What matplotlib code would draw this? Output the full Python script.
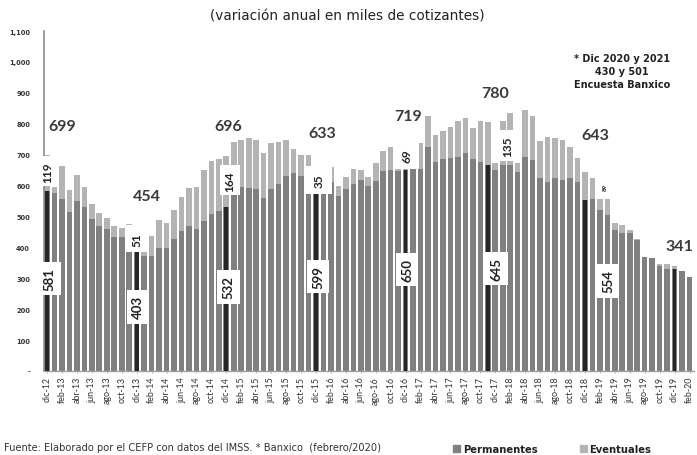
import matplotlib
matplotlib.use("Agg")
import matplotlib.pyplot as plt
from matplotlib.patches import Patch
import numpy as np

# ---------------- data ----------------
meses = ['ene', 'feb', 'mar', 'abr', 'may', 'jun', 'jul', 'ago', 'sep', 'oct', 'nov', 'dic']
categorias = ['dic-12'] + [f'{m}-{y}' for y in range(13, 20) for m in meses] + ['ene-20', 'feb-20']

permanentes = [581, 576, 557, 515, 551, 530, 491, 470, 459, 433, 433, 394,
               403, 371, 371, 399, 399, 428, 453, 468, 459, 484, 509, 517,
               532, 585, 596, 593, 588, 561, 588, 604, 632, 639, 631, 598,
               599, 585, 610, 567, 588, 605, 618, 599, 614, 647, 650, 648,
               650, 652, 653, 726, 675, 686, 690, 693, 704, 685, 677, 666,
               650, 665, 665, 644, 693, 682, 623, 612, 623, 618, 625, 610,
               554, 558, 520, 504, 455, 445, 445, 423, 369, 366, 340, 330,
               329, 322, 304]
eventuales = [119, 19, 106, 71, 82, 65, 48, 40, 37, 35, 31, 83,
              51, 22, 65, 89, 80, 92, 111, 123, 135, 167, 171, 168,
              164, 155, 151, 162, 159, 145, 149, 136, 115, 79, 68, 101,
              35, 25, 51, 32, 39, 48, 32, 28, 58, 66, 76, 85,
              69, 90, 84, 100, 89, 92, 101, 116, 116, 100, 132, 141,
              22, 144, 169, 30, 152, 144, 121, 146, 130, 129, 101, 80,
              89, 65, 38, 54, 24, 28, 10, 3, 0, 0, 7, 17,
              12, 0, 0]

destacados = [0, 12, 24, 36, 48, 59, 72, 84]
totales_txt = ['699', '454', '696', '633', '719', '780', '643', '341']
perm_txt = ['581', '403', '532', '599', '650', '645', '554']
event_txt = ['119', '51', '164', '35', '69', '135', '89']

yticks = [0, 100, 200, 300, 400, 500, 600, 700, 800, 900, 1000, 1100]

# ---------------- layout ----------------
tot_pos = [(2.0, 792), (13.4, 565), (24.2, 792), (36.9, 769), (48.3, 824),
           (60.0, 899), (73.4, 763), (84.7, 406)]
perm_pos = [(0.4, 299), (12.2, 208), (24.3, 272), (36.3, 305), (48.2, 328),
            (60.2, 331), (75.1, 292)]
ev_pos = [(0.1, 646), (12.1, 428), (24.5, 617), (36.4, 617), (48.2, 698),
          (61.7, 730), (74.7, 597)]
ev_size = [8.5, 8.5, 8.5, 8.5, 8.5, 8.5, 4.5]
ev_pad = [0.4, 0.55, 0.4, 0.6, 0.55, 0.45, 0.3]

C_PERM = '#808080'
C_EVENT = '#b4b4b4'
C_DEST = '#262626'
TXT = '#3a3a3a'

fig = plt.figure(figsize=(6.97, 4.56), dpi=100)
ax = fig.add_axes([44 / 697, 84 / 456, 650 / 697, 340 / 456])

x = np.arange(len(categorias))
w = 0.75
ax.bar(x, permanentes, width=w, color=C_PERM, zorder=2)
ax.bar(x, eventuales, width=w, bottom=permanentes, color=C_EVENT, zorder=2)
xd = np.array(destacados)
ax.bar(xd, [permanentes[i] for i in destacados], width=0.5, color=C_DEST, zorder=3)

ax.set_xlim(-0.4, 86.6)
ax.set_ylim(0, 1100)
ax.set_yticks(yticks)
ax.set_yticklabels(['-' if v == 0 else f'{v:,}' for v in yticks],
                   fontsize=4.8, fontweight='bold', color='#333333', family='DejaVu Sans')
ax.set_xticks(x[::2])
ax.set_xticklabels(categorias[::2], rotation=90, fontsize=6.4, family='Lato', color='#333333')
ax.tick_params(axis='y', length=0, pad=10)
ax.tick_params(axis='x', length=1.5, width=0.6, color='#aaaaaa', pad=2)

for s in ['top', 'right']:
    ax.spines[s].set_visible(False)
ax.spines['left'].set_color('#8c8c8c')
ax.spines['left'].set_linewidth(1.2)
ax.spines['bottom'].set_color('#a0a0a0')
ax.spines['bottom'].set_linewidth(1.0)

# total labels
for t, (px, py) in zip(totales_txt, tot_pos):
    ax.text(px, py, t, ha='center', va='center', fontsize=11.5, fontweight='bold',
            family='Lato', color=TXT, zorder=6)

# permanent labels (rotated, boxed)
for t, (px, py) in zip(perm_txt, perm_pos):
    ax.text(px, py, t, ha='center', va='center', rotation=90, rotation_mode='anchor',
            fontsize=9.5, fontweight='bold', family='Lato', color='#222222', zorder=6,
            bbox=dict(boxstyle='square,pad=0.4', fc='white', ec='none'))

# eventual labels (rotated, boxed)
for t, (px, py), fs, pd in zip(event_txt, ev_pos, ev_size, ev_pad):
    ax.text(px, py, t, ha='center', va='center', rotation=90, rotation_mode='anchor',
            fontsize=fs, fontweight='bold', family='Lato', color='#222222', zorder=6,
            bbox=dict(boxstyle=f'square,pad={pd}', fc='white', ec='none'))

# title and notes
fig.text(0.499, 1 - 16 / 456, '(variación anual en miles de cotizantes)', ha='center', va='center',
         fontsize=9.8, family='DejaVu Sans', color='#222222')
fig.text(622 / 697, 1 - 72 / 456, '* Dic 2020 y 2021\n430 y 501\nEncuesta Banxico', ha='center',
         va='center', fontsize=7, fontweight='bold', family='DejaVu Sans', color='#222222',
         linespacing=1.35)
fig.text(4 / 697, 1 - 448 / 456,
         'Fuente: Elaborado por el CEFP con datos del IMSS. * Banxico  (febrero/2020)',
         ha='left', va='center', fontsize=7.1, family='DejaVu Sans', color='#333333')

handles = [Patch(color=C_PERM), Patch(color=C_EVENT)]
fig.legend(handles, ['Permanentes', 'Eventuales'], loc='center left',
           bbox_to_anchor=(444 / 697, 1 - 450 / 456), ncol=2, frameon=False,
           handlelength=0.7, handleheight=0.7, handletextpad=0.3, columnspacing=4.2,
           prop={'family': 'DejaVu Sans', 'weight': 'bold', 'size': 7.2}, labelcolor='#222222')

fig.savefig('out.png', dpi=100, facecolor='white')
